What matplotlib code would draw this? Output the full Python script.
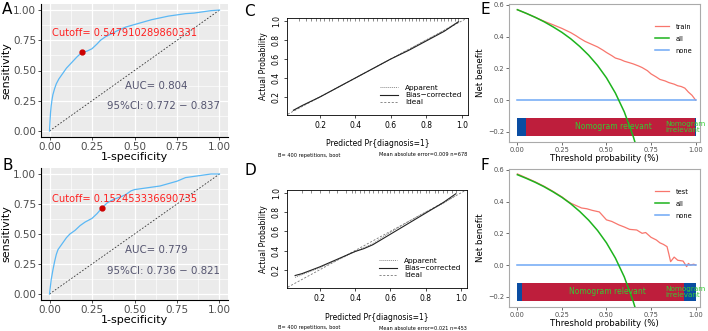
import matplotlib
matplotlib.use("Agg")
import matplotlib.pyplot as plt
from matplotlib.lines import Line2D

W, H = 708, 331
fig = plt.figure(figsize=(W/100, H/100), dpi=100)

def rect(l, r, t, b):
    return [l/W, 1-b/H, (r-l)/W, (b-t)/H]

# ---------------- data ----------------
rocA_fpr = [0, 0.003, 0.006, 0.01, 0.015, 0.02, 0.03, 0.04, 0.055, 0.07, 0.085, 0.1, 0.12, 0.14, 0.16, 0.19, 0.22, 0.25, 0.28, 0.3, 0.33, 0.36, 0.4, 0.45, 0.5, 0.55, 0.6, 0.65, 0.7, 0.75, 0.8, 0.85, 0.9, 0.95, 1.0]
rocA_tpr = [0, 0.08, 0.15, 0.21, 0.26, 0.3, 0.35, 0.39, 0.43, 0.46, 0.49, 0.52, 0.55, 0.58, 0.61, 0.65, 0.66, 0.68, 0.72, 0.75, 0.78, 0.8, 0.83, 0.86, 0.88, 0.9, 0.92, 0.935, 0.95, 0.96, 0.97, 0.975, 0.985, 0.995, 1.0]
cutA = (0.19, 0.65)
cutA_label = "Cutoff= 0.547910289860331"
aucA = "AUC= 0.804"
ciA = "95%CI: 0.772 \u2212 0.837"

rocB_fpr = [0, 0.005, 0.01, 0.02, 0.03, 0.04, 0.05, 0.065, 0.08, 0.1, 0.12, 0.15, 0.18, 0.21, 0.25, 0.28, 0.31, 0.34, 0.38, 0.42, 0.45, 0.48, 0.5, 0.55, 0.6, 0.65, 0.7, 0.75, 0.8, 0.85, 0.9, 0.95, 1.0]
rocB_tpr = [0, 0.06, 0.12, 0.2, 0.27, 0.33, 0.37, 0.4, 0.43, 0.47, 0.5, 0.53, 0.57, 0.6, 0.63, 0.67, 0.72, 0.76, 0.79, 0.81, 0.83, 0.86, 0.87, 0.88, 0.89, 0.9, 0.92, 0.94, 0.97, 0.98, 0.99, 1.0, 1.0]
cutB = (0.31, 0.72)
cutB_label = "Cutoff= 0.152453336690735"
aucB = "AUC= 0.779"
ciB = "95%CI: 0.736 \u2212 0.821"

calC_x = [0.05, 0.1, 0.2, 0.3, 0.4, 0.5, 0.6, 0.7, 0.8, 0.9, 0.98]
calC_bias = [0.06, 0.11, 0.2, 0.3, 0.4, 0.5, 0.6, 0.69, 0.79, 0.89, 0.99]
calC_app = [0.055, 0.105, 0.2, 0.3, 0.4, 0.5, 0.6, 0.7, 0.8, 0.9, 0.99]
rugC = [0.08, 0.12, 0.15, 0.18, 0.2, 0.22, 0.25, 0.27, 0.3, 0.33, 0.35, 0.37, 0.4, 0.42, 0.45, 0.47, 0.5, 0.52, 0.55, 0.57, 0.6, 0.62, 0.64, 0.66, 0.68, 0.7, 0.72, 0.74, 0.76, 0.78, 0.8, 0.82, 0.84, 0.86, 0.88, 0.9, 0.92, 0.94, 0.96, 0.98]
footC = ("B= 400 repetitions, boot", "Mean absolute error=0.009 n=678")

calD_x = [0.06, 0.1, 0.2, 0.3, 0.4, 0.45, 0.5, 0.6, 0.7, 0.8, 0.9, 0.97]
calD_bias = [0.14, 0.16, 0.23, 0.31, 0.39, 0.42, 0.46, 0.57, 0.68, 0.79, 0.9, 0.99]
calD_app = [0.12, 0.15, 0.22, 0.3, 0.39, 0.43, 0.47, 0.59, 0.7, 0.8, 0.89, 0.97]
rugD = [0.1, 0.15, 0.2, 0.25, 0.3, 0.35, 0.38, 0.4, 0.43, 0.45, 0.48, 0.5, 0.53, 0.55, 0.58, 0.6, 0.62, 0.65, 0.67, 0.7, 0.72, 0.75, 0.77, 0.8, 0.82, 0.85, 0.87, 0.9, 0.92, 0.95, 0.97]
footD = ("B= 400 repetitions, boot", "Mean absolute error=0.021 n=453")

dca_t_all = [0, 0.05, 0.1, 0.15, 0.2, 0.25, 0.3, 0.35, 0.4, 0.45, 0.5, 0.55, 0.6, 0.65, 0.68]
dca_all = [0.57, 0.547, 0.522, 0.494, 0.462, 0.427, 0.386, 0.338, 0.283, 0.218, 0.14, 0.044, -0.075, -0.229, -0.34]

train_t = [0, 0.05, 0.1, 0.15, 0.2, 0.25, 0.3, 0.33, 0.35, 0.38, 0.4, 0.43, 0.45, 0.48, 0.5, 0.53, 0.55, 0.58, 0.6, 0.63, 0.65, 0.68, 0.7, 0.73, 0.75, 0.78, 0.8, 0.83, 0.85, 0.88, 0.9, 0.92, 0.94, 0.96, 0.98, 1.0]
train_nb = [0.57, 0.547, 0.522, 0.497, 0.475, 0.452, 0.425, 0.405, 0.39, 0.37, 0.36, 0.345, 0.335, 0.315, 0.30, 0.28, 0.265, 0.255, 0.245, 0.235, 0.228, 0.215, 0.205, 0.185, 0.165, 0.145, 0.13, 0.12, 0.11, 0.1, 0.09, 0.085, 0.075, 0.05, 0.03, 0.0]
bar_train = [0.047, 0.995]

test_t = [0, 0.05, 0.1, 0.15, 0.2, 0.25, 0.28, 0.3, 0.33, 0.36, 0.39, 0.42, 0.46, 0.48, 0.5, 0.53, 0.57, 0.6, 0.63, 0.67, 0.7, 0.72, 0.75, 0.78, 0.8, 0.82, 0.84, 0.85, 0.86, 0.88, 0.9, 0.93, 0.95, 0.96, 0.97, 0.99, 1.0]
test_nb = [0.575, 0.55, 0.525, 0.497, 0.465, 0.43, 0.405, 0.39, 0.375, 0.36, 0.355, 0.345, 0.335, 0.31, 0.285, 0.275, 0.253, 0.24, 0.225, 0.221, 0.2, 0.205, 0.175, 0.158, 0.14, 0.13, 0.116, 0.07, 0.021, 0.05, 0.03, 0.025, -0.01, 0.01, 0.0, 0.005, 0.0]
bar_test = [0.028, 0.938]

# ---------------- ROC panels ----------------
def roc_panel(r, fpr, tpr, cut, lab, auc, ci, letter, letter_xy, tx):
    ax = fig.add_axes(r)
    ax.set_facecolor("#EBEBEB")
    ax.set_xlim(-0.05, 1.05)
    ax.set_ylim(-0.05, 1.05)
    ticks = [0, 0.25, 0.5, 0.75, 1.0]
    ax.set_xticks(ticks)
    ax.set_yticks(ticks)
    ax.set_xticklabels(["0.00", "0.25", "0.50", "0.75", "1.00"], fontsize=7.5, color="#4D4D4D")
    ax.set_yticklabels(["0.00", "0.25", "0.50", "0.75", "1.00"], fontsize=7.5, color="#4D4D4D")
    ax.set_xticks([0.125, 0.375, 0.625, 0.875], minor=True)
    ax.set_yticks([0.125, 0.375, 0.625, 0.875], minor=True)
    ax.grid(True, which="major", color="white", lw=0.9)
    ax.grid(True, which="minor", color="white", lw=0.45)
    ax.tick_params(which="minor", length=0)
    ax.tick_params(which="major", length=2.5, width=0.6, color="#333333", pad=1)
    ax.set_axisbelow(True)
    for s in ["top", "right"]:
        ax.spines[s].set_visible(False)
    for s in ["left", "bottom"]:
        ax.spines[s].set_color("black")
        ax.spines[s].set_linewidth(0.8)
    ax.plot([0, 1], [0, 1], ls=(0, (2, 2)), color="#333333", lw=0.6)
    ax.plot(fpr, tpr, color="#5BB8F5", lw=0.9)
    ax.plot([cut[0]], [cut[1]], "o", color="#CC0000", ms=3.5)
    ax.text(0.016, tx[0], lab, color="#FF2020", fontsize=7.1, va="center", ha="left")
    ax.text(0.63, tx[1], auc, color="#555570", fontsize=7.4, va="center", ha="center")
    ax.text(0.67, tx[2], ci, color="#555570", fontsize=7.4, va="center", ha="center")
    ax.set_xlabel("1-specificity", fontsize=8, labelpad=0)
    ax.set_ylabel("sensitivity", fontsize=8, labelpad=1)
    fig.text(letter_xy[0]/W, 1-letter_xy[1]/H, letter, fontsize=11, ha="left", va="center")
    return ax

roc_panel(rect(41, 228, 4, 137), rocA_fpr, rocA_tpr, cutA, cutA_label, aucA, ciA, "A", (2, 10), (0.81, 0.37, 0.205))
roc_panel(rect(41, 228, 168, 300), rocB_fpr, rocB_tpr, cutB, cutB_label, aucB, ciB, "B", (2, 166), (0.795, 0.37, 0.19))

# ---------------- calibration panels ----------------
def cal_panel(r, x, bias, app, rug, foot, letter, letter_xy, foot_y, xlab_y):
    ax = fig.add_axes(r)
    ax.set_xlim(0.014, 1.034)
    ax.set_ylim(0.01, 1.03)
    ax.plot([0, 1.1], [0, 1.1], ls=(0, (2.5, 2)), color="#777777", lw=0.6)
    ax.plot(x, app, ls=(0, (1, 1)), color="#888888", lw=0.7)
    ax.plot(x, bias, color="#222222", lw=0.8)
    ax.vlines(rug, 1.0, 1.03, color="#333333", lw=0.4)
    ax.set_xticks([0.2, 0.4, 0.6, 0.8, 1.0])
    ax.set_xticklabels(["0.2", "0.4", "0.6", "0.8", "1.0"], fontsize=5.5)
    ax.set_yticks([0.2, 0.4, 0.6, 0.8, 1.0])
    ax.set_yticklabels(["0.2", "0.4", "0.6", "0.8", "1.0"], fontsize=5.5, rotation=90, va="center")
    ax.tick_params(length=2.5, width=0.5, pad=2)
    for s in ax.spines.values():
        s.set_linewidth(0.6)
    ax.set_ylabel("Actual Probability", fontsize=5.5, labelpad=3)
    h = [Line2D([], [], ls=(0, (1, 1)), color="#888888", lw=0.7),
         Line2D([], [], color="#222222", lw=0.8),
         Line2D([], [], ls=(0, (2.5, 2)), color="#777777", lw=0.6)]
    ax.legend(h, ["Apparent", "Bias\u2212corrected", "Ideal"], loc="lower right",
              bbox_to_anchor=(1.0, 0.03), frameon=False, fontsize=5.3,
              handlelength=2.4, labelspacing=0.15, handletextpad=1.0)
    fig.text((r[0] + r[2]/2), 1-xlab_y/H, "Predicted Pr{diagnosis=1}", fontsize=5.5, ha="center", va="center")
    fig.text(278/W, 1-foot_y/H, foot[0], fontsize=3.6, ha="left", va="center")
    fig.text(467/W, 1-foot_y/H, foot[1], fontsize=3.6, ha="right", va="center")
    fig.text(letter_xy[0]/W, 1-letter_xy[1]/H, letter, fontsize=11, ha="left", va="center")

cal_panel(rect(287, 468, 18, 115), calC_x, calC_bias, calC_app, rugC, footC, "C", (244, 12), 155, 143)
cal_panel(rect(287, 467, 190, 288), calD_x, calD_bias, calD_app, rugD, footD, "D", (244, 170), 328, 318)

# ---------------- DCA panels ----------------
def dca_panel(r, t, nb, name, bar, letter, letter_xy):
    ax = fig.add_axes(r)
    ax.set_xlim(-0.047, 1.025)
    ax.set_ylim(-0.265, 0.606)
    ax.plot(t, nb, color="#F8766D", lw=0.9, label=name, zorder=3)
    ax.plot(dca_t_all, dca_all, color="#1DB31D", lw=1.1, label="all", zorder=4)
    ax.plot([0, 1], [0, 0], color="#6FA8F5", lw=1.1, label="none", zorder=3)
    y0, y1 = -0.227, -0.116
    ax.fill_between([0, bar[0]], y0, y1, color="#0A4DA2", lw=0, zorder=2)
    ax.fill_between([bar[0], bar[1]], y0, y1, color="#BE1E3C", lw=0, zorder=2)
    ax.fill_between([bar[1], 1.0], y0, y1, color="#0A4DA2", lw=0, zorder=2)
    ax.text((bar[0] + bar[1]) / 2 + 0.02, -0.17, "Nomogram relevant", color="#33CC33", fontsize=5.5,
            ha="center", va="center", zorder=5)
    ax.text(0.83, -0.17, "Nomogram\nirrelevant", color="#33CC33", fontsize=5.2,
            ha="left", va="center", linespacing=0.95, zorder=5, clip_on=False)
    ax.set_xticks([0, 0.25, 0.5, 0.75, 1.0])
    ax.set_xticklabels(["0.00", "0.25", "0.50", "0.75", "1.00"], fontsize=4.8, color="#4D4D4D")
    ax.set_yticks([-0.2, 0, 0.2, 0.4, 0.6])
    ax.set_yticklabels(["\u22120.2", "0.0", "0.2", "0.4", "0.6"], fontsize=4.8, color="#4D4D4D")
    ax.tick_params(length=2, width=0.5, color="#333333", pad=1.5)
    for s in ax.spines.values():
        s.set_color("#AAAAAA")
        s.set_linewidth(0.8)
    ax.set_xlabel("Threshold probability (%)", fontsize=6.2, labelpad=1)
    ax.set_ylabel("Net benefit", fontsize=6.2, labelpad=2)
    ax.legend(loc="upper right", bbox_to_anchor=(0.99, 0.9), frameon=False, fontsize=4.8,
              handlelength=2.0, labelspacing=0.9, handletextpad=1.0)
    fig.text(letter_xy[0]/W, 1-letter_xy[1]/H, letter, fontsize=11, ha="left", va="center")

dca_panel(rect(509, 700, 4, 142), train_t, train_nb, "train", bar_train, "E", (481, 10))
dca_panel(rect(509, 700, 169, 307), test_t, test_nb, "test", bar_test, "F", (481, 166))

fig.savefig("out.png", dpi=100)
